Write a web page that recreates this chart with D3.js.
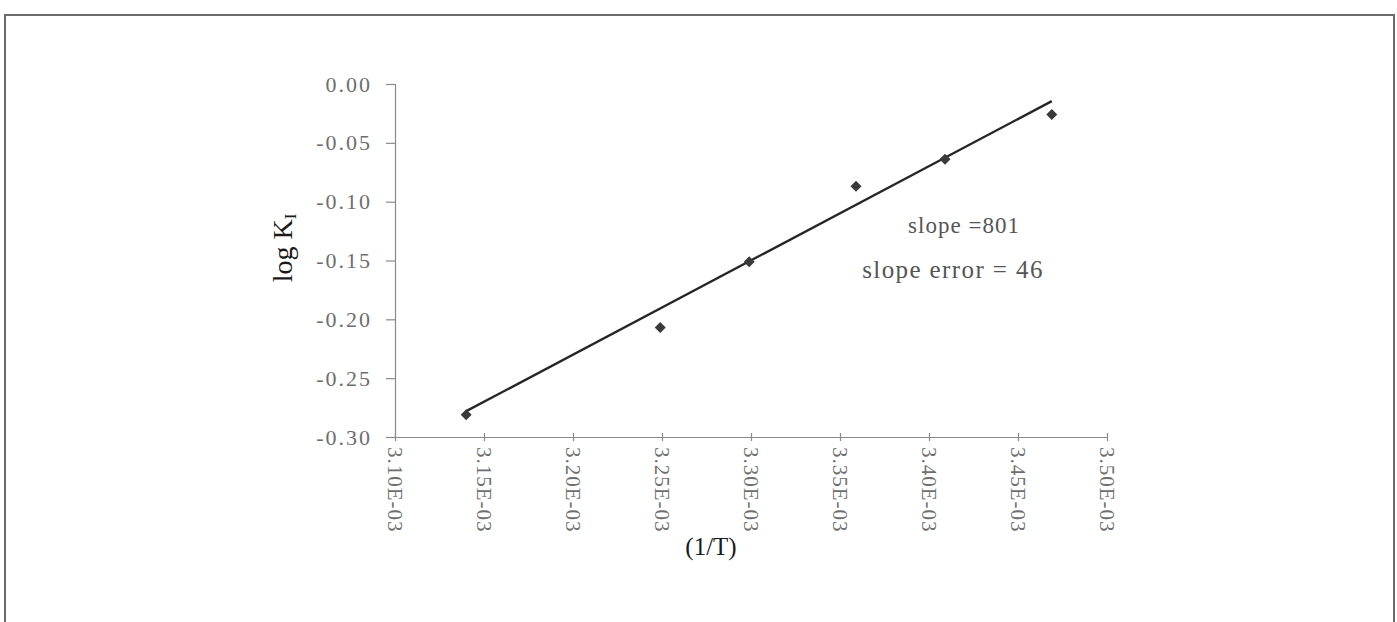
<!DOCTYPE html>
<html>
<head>
<meta charset="utf-8">
<script src="https://cdn.jsdelivr.net/npm/d3@7"></script>
<style>
  html, body { margin: 0; padding: 0; background: #fff; }
  svg { display: block; }
</style>
</head>
<body>
<svg id="chart" width="1397" height="622"></svg>
<script>
// 1/T (K^-1) and log K_I for each measured temperature
const invT = [3.140e-3, 3.249e-3, 3.299e-3, 3.359e-3, 3.409e-3, 3.469e-3];
const logK = [-0.281, -0.207, -0.151, -0.087, -0.064, -0.026];

// Linear fit through the points
const fitSlope = 801;
const fitIntercept = -2.7932;
const slopeError = 46;

const xTicks = [3.10e-3, 3.15e-3, 3.20e-3, 3.25e-3, 3.30e-3, 3.35e-3, 3.40e-3, 3.45e-3, 3.50e-3];
const xTickLabels = ["3.10E-03", "3.15E-03", "3.20E-03", "3.25E-03", "3.30E-03", "3.35E-03", "3.40E-03", "3.45E-03", "3.50E-03"];
const yTicks = [0.00, -0.05, -0.10, -0.15, -0.20, -0.25, -0.30];
const yTickLabels = ["0.00", "-0.05", "-0.10", "-0.15", "-0.20", "-0.25", "-0.30"];

const svg = d3.select("#chart");
const serif = "'Liberation Serif', 'Times New Roman', serif";

// outer frame
svg.append("path")
  .attr("d", "M5,640 L5,15 L1394,15 L1394,640")
  .attr("fill", "none")
  .attr("stroke", "#6a6a6a")
  .attr("stroke-width", 2);

const x = d3.scaleLinear().domain([3.10e-3, 3.50e-3]).range([395, 1107]);
const y = d3.scaleLinear().domain([-0.30, 0.00]).range([437, 84]);

// y axis
const yAxis = svg.append("g")
  .attr("transform", `translate(${x.range()[0]},0)`)
  .call(d3.axisLeft(y).tickValues(yTicks).tickSize(9).tickPadding(14)
    .tickFormat((d, i) => yTickLabels[i]));
yAxis.select(".domain").attr("stroke", "#8a8a8a").attr("stroke-width", 1.2);
yAxis.selectAll(".tick line").attr("stroke", "#8a8a8a").attr("stroke-width", 1.2);
yAxis.selectAll(".tick text")
  .attr("font-family", serif).attr("font-size", 22).attr("fill", "#6e6e6e")
  .attr("letter-spacing", 2);

// x axis with ticks crossing the line
const xAxis = svg.append("g")
  .attr("transform", `translate(0,${y.range()[0]})`)
  .call(d3.axisBottom(x).tickValues(xTicks).tickSize(4).tickSizeOuter(0)
    .tickFormat((d, i) => xTickLabels[i]));
xAxis.select(".domain").attr("stroke", "#8a8a8a").attr("stroke-width", 1.2);
xAxis.selectAll(".tick line").attr("y1", -4).attr("y2", 4)
  .attr("stroke", "#8a8a8a").attr("stroke-width", 1.2);
xAxis.selectAll(".tick text")
  .attr("font-family", serif).attr("font-size", 21).attr("fill", "#6e6e6e")
  .attr("letter-spacing", 1)
  .attr("transform", "rotate(90)")
  .attr("text-anchor", "start")
  .attr("x", 10).attr("y", 0).attr("dy", "0.35em");

// fitted line across the measured range
const xs = d3.extent(invT);
svg.append("line")
  .attr("x1", x(xs[0])).attr("y1", y(fitSlope * xs[0] + fitIntercept))
  .attr("x2", x(xs[1])).attr("y2", y(fitSlope * xs[1] + fitIntercept))
  .attr("stroke", "#262626").attr("stroke-width", 2.4);

// data points as diamonds
const r = 5.5;
svg.selectAll(".pt")
  .data(invT.map((v, i) => [v, logK[i]]))
  .join("path")
  .attr("class", "pt")
  .attr("d", `M0,${-r}L${r},0L0,${r}L${-r},0Z`)
  .attr("transform", d => `translate(${x(d[0])},${y(d[1])})`)
  .attr("fill", "#3a3a3a");

// fit annotation
svg.append("text")
  .attr("x", 964).attr("y", 233)
  .attr("text-anchor", "middle")
  .attr("font-family", serif).attr("font-size", 23).attr("fill", "#555")
  .attr("letter-spacing", 1)
  .text(`slope =${fitSlope}`);
svg.append("text")
  .attr("x", 953).attr("y", 278)
  .attr("text-anchor", "middle")
  .attr("font-family", serif).attr("font-size", 25).attr("fill", "#555")
  .attr("letter-spacing", 1.4)
  .text(`slope error = ${slopeError}`);

// axis titles
const yTitle = svg.append("text")
  .attr("transform", "translate(292,248) rotate(-90)")
  .attr("text-anchor", "middle")
  .attr("font-family", serif).attr("font-size", 28).attr("fill", "#1a1a1a");
yTitle.append("tspan").text("log K");
yTitle.append("tspan").attr("font-size", 17).attr("dy", 4).text("I");

svg.append("text")
  .attr("x", 711).attr("y", 555)
  .attr("text-anchor", "middle")
  .attr("font-family", serif).attr("font-size", 25).attr("fill", "#1a1a1a")
  .text("(1/T)");
</script>
</body>
</html>
